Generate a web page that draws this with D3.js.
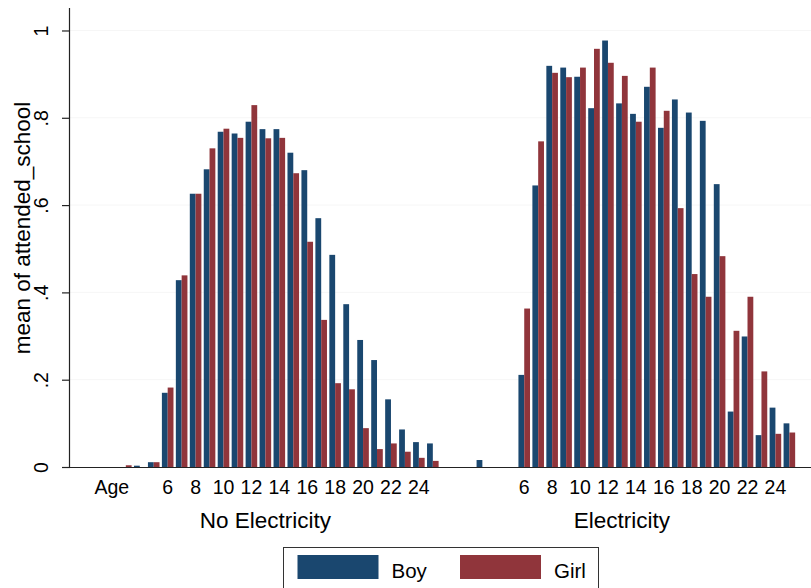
<!DOCTYPE html>
<html>
<head>
<meta charset="utf-8">
<script src="https://cdn.jsdelivr.net/npm/d3@7"></script>
<style>
  html, body { margin: 0; padding: 0; background: #ffffff; }
  svg { display: block; font-family: "Liberation Sans", Arial, Helvetica, sans-serif; }
</style>
</head>
<body>
<div id="chart"></div>
<script>
// ---------- data ----------
const ages = [1,2,3,4,5,6,7,8,9,10,11,12,13,14,15,16,17,18,19,20,21,22,23,24,25];
const groups = ["No Electricity", "Electricity"];
const seriesNames = ["Boy", "Girl"];

const boyNoElec  = [0,0,0,0.003,0.011,0.170,0.428,0.626,0.682,0.768,0.764,0.791,0.774,0.774,0.720,0.680,0.570,0.486,0.373,0.291,0.245,0.155,0.086,0.057,0.054];
const girlNoElec = [0,0,0.004,0,0.011,0.182,0.439,0.626,0.730,0.775,0.754,0.829,0.753,0.754,0.673,0.516,0.337,0.192,0.178,0.089,0.041,0.054,0.035,0.021,0.014];
const boyElec    = [0,0,0.016,0,0,0.211,0.645,0.919,0.915,0.894,0.822,0.977,0.833,0.809,0.871,0.777,0.842,0.812,0.793,0.648,0.127,0.299,0.073,0.136,0.100];
const girlElec   = [0,0,0,0,0,0.363,0.746,0.903,0.893,0.915,0.958,0.926,0.896,0.791,0.915,0.816,0.593,0.442,0.390,0.483,0.312,0.390,0.219,0.076,0.079];

const tickAges = [6,8,10,12,14,16,18,20,22,24];
const yTicks = [0, 0.2, 0.4, 0.6, 0.8, 1];
const yTickLabels = ["0", ".2", ".4", ".6", ".8", "1"];
const yTitle = "mean of attended_school";
const extraLabel = "Age";      // shown under age 2 of first group
const extraLabelAge = 2;

// ---------- layout ----------
const W = 811, H = 588;
const colors = {Boy: "#1a476f", Girl: "#90353b"};
const groupOffset = [0, 25.55];   // in slot units

const svg = d3.select("#chart").append("svg").attr("width", W).attr("height", H);

const x = d3.scaleLinear().domain([0, 53.1]).range([70, 811]);
const y = d3.scaleLinear().domain([0, 1.0515]).range([467, 8]);
const slotPos = (gi, age) => x(age + 1 + groupOffset[gi]);
const barW = x(0.415) - x(0);

// gridlines (very faint)
svg.append("g").selectAll("line").data(yTicks.slice(1)).join("line")
  .attr("x1", x(0)).attr("x2", W)
  .attr("y1", d => y(d)).attr("y2", d => y(d))
  .attr("stroke", "#f6f6f6").attr("stroke-width", 1);

// bars
const data = [];
const table = [[boyNoElec, girlNoElec], [boyElec, girlElec]];
groups.forEach((g, gi) => {
  ages.forEach((a, ai) => {
    seriesNames.forEach((s, si) => {
      data.push({gi, age: a, series: s, si, value: table[gi][si][ai]});
    });
  });
});

svg.append("g").selectAll("rect").data(data.filter(d => d.value > 0)).join("rect")
  .attr("x", d => slotPos(d.gi, d.age) + (d.si === 0 ? -barW : 0))
  .attr("width", barW)
  .attr("y", d => y(d.value))
  .attr("height", d => y(0) - y(d.value))
  .attr("fill", d => colors[d.series]);

// y axis
const yAxis = d3.axisLeft(y).tickValues(yTicks).tickSize(8)
  .tickFormat((d, i) => yTickLabels[i]);
const gy = svg.append("g").attr("transform", `translate(${x(0)},0)`).call(yAxis);
gy.select(".domain").attr("stroke", "#222").attr("stroke-width", 1.2).attr("d", `M-0.5,${y(1.0515)}V${y(0)}`);
gy.selectAll(".tick line").attr("stroke", "#222").attr("stroke-width", 1.2);
gy.selectAll(".tick text")
  .attr("x", null).attr("dy", null)
  .attr("transform", "translate(-22,0) rotate(-90)")
  .attr("text-anchor", "middle")
  .attr("font-size", 19.5)
  .attr("font-family", "Liberation Sans, Arial, sans-serif")
  .attr("fill", "#000");

// x axis line
svg.append("line")
  .attr("x1", x(0)).attr("x2", W)
  .attr("y1", y(0) + 0.5).attr("y2", y(0) + 0.5)
  .attr("stroke", "#222").attr("stroke-width", 1.2);

// x tick labels
groups.forEach((g, gi) => {
  svg.append("g").selectAll("text").data(tickAges).join("text")
    .attr("x", d => slotPos(gi, d))
    .attr("y", 494)
    .attr("text-anchor", "middle")
    .attr("font-size", 19.5)
    .attr("fill", "#000")
    .text(d => d);
  // group label
  const cx = (slotPos(gi, ages[0]) + slotPos(gi, ages[ages.length - 1])) / 2;
  svg.append("text")
    .attr("x", cx).attr("y", 528)
    .attr("text-anchor", "middle")
    .attr("font-size", 22.5)
    .attr("fill", "#000")
    .text(g);
});
svg.append("text")
  .attr("x", slotPos(0, extraLabelAge)).attr("y", 494)
  .attr("text-anchor", "middle").attr("font-size", 19.5).attr("fill", "#000")
  .text(extraLabel);

// y title
svg.append("text")
  .attr("transform", `translate(30,228) rotate(-90)`)
  .attr("text-anchor", "middle")
  .attr("font-size", 22.5)
  .attr("fill", "#000")
  .text(yTitle);

// legend
const lg = svg.append("g");
lg.append("rect").attr("x", 283.5).attr("y", 547.5).attr("width", 315).attr("height", 50)
  .attr("fill", "#fff").attr("stroke", "#333").attr("stroke-width", 1);
const legX = [297.5, 460];
seriesNames.forEach((s, i) => {
  lg.append("rect").attr("x", legX[i]).attr("y", 555).attr("width", 81).attr("height", 24)
    .attr("fill", colors[s]);
  lg.append("text").attr("x", legX[i] + 94).attr("y", 578)
    .attr("font-size", 20.5).attr("fill", "#000").text(s);
});
</script>
</body>
</html>
